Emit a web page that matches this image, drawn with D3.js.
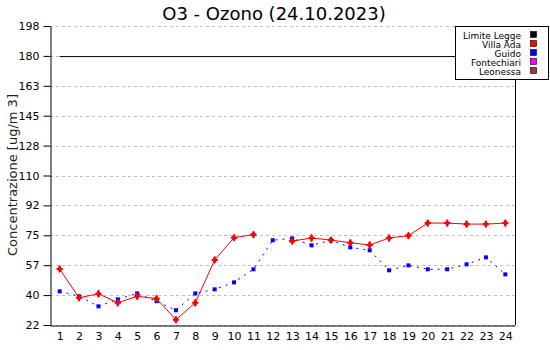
<html>
<head>
<script src="https://d3js.org/d3.v7.min.js"></script>
<style>
  body { margin: 0; background: #fff; }
  text { font-family: "DejaVu Sans", Verdana, sans-serif; }
</style>
</head>
<body>
<svg id="chart" width="550" height="350"></svg>
<script>
  // hours of the day
  var hours = d3.range(1, 25);
  var yTicks = [22, 39.6, 57.2, 74.8, 92.4, 110, 127.6, 145.2, 162.8, 180.4, 198];
  var limite = 180;
  // null = no reading
  var villaAda = [55, 38, 40.4, 35.1, 38.9, 37.5, 25.1, 35.1, 60.3, 73.4, 75.2, null,
                  71.4, 73.2, 72, 70.4, 69.1, 73.2, 74.6, 82, 82, 81.4, 81.4, 82];
  var guido = [41.8, 38.9, 33, 37.1, 40.6, 36, 30.7, 40.6, 43, 47.1, 54.8, 71.9,
               73, 68.9, 71.9, 67.7, 66, 54.2, 57.1, 54.8, 54.8, 57.7, 61.8, 51.8];
  var legendNames = ["Limite Legge", "Villa Ada", "Guido", "Fontechiari", "Leonessa"];
  var legendColors = ["#000000", "#ff0000", "#0000ff", "#ff00ff", "#a33333"];

  var margin = {top: 26, right: 35, bottom: 25, left: 50},
      width = 550 - margin.left - margin.right,
      height = 350 - margin.top - margin.bottom;

  var svg = d3.select("#chart").append("g")
    .attr("transform", "translate(" + margin.left + "," + margin.top + ")");

  var x = d3.scalePoint().domain(hours).range([0, width]).padding(0.5);
  var y = d3.scaleLinear().domain([22, 198]).range([height, 0]);

  // grid
  svg.append("g").selectAll("line")
    .data(yTicks)
    .enter().append("line")
      .attr("x1", 0).attr("x2", width)
      .attr("y1", function(d) { return Math.round(y(d)) + 0.5; })
      .attr("y2", function(d) { return Math.round(y(d)) + 0.5; })
      .attr("stroke", "#c0c0c0")
      .attr("stroke-dasharray", "3,3");

  // axes
  var yAxis = svg.append("g")
    .attr("transform", "translate(0.5,0)")
    .call(d3.axisLeft(y).tickValues(yTicks).tickSize(7).tickSizeOuter(0)
      .tickFormat(function(d) { return Math.round(d); }));
  yAxis.select(".domain").attr("stroke", "#000");
  yAxis.selectAll("text").attr("font-size", 11).attr("font-family", "DejaVu Sans, Verdana, sans-serif").attr("dx", "-1");

  var xAxis = svg.append("g")
    .attr("transform", "translate(0," + (height + 0.5) + ")")
    .call(d3.axisBottom(x).tickSize(0).tickSizeOuter(0).tickPadding(7));
  xAxis.select(".domain").attr("stroke", "#000");
  xAxis.selectAll("text").attr("font-size", 11).attr("font-family", "DejaVu Sans, Verdana, sans-serif");

  svg.append("line")
    .attr("x1", width + 0.5).attr("x2", width + 0.5)
    .attr("y1", 0).attr("y2", height)
    .attr("stroke", "#000");

  // limit line
  svg.append("line")
    .attr("x1", x(1)).attr("x2", x(24))
    .attr("y1", y(limite)).attr("y2", y(limite))
    .attr("stroke", "#000");

  var adaData = hours.map(function(h, i) { return {h: h, v: villaAda[i]}; });
  var guidoData = hours.map(function(h, i) { return {h: h, v: guido[i]}; });

  var line = d3.line()
    .defined(function(d) { return d.v !== null; })
    .x(function(d) { return x(d.h); })
    .y(function(d) { return y(d.v); });

  // Guido
  svg.append("path")
    .datum(guidoData)
    .attr("fill", "none")
    .attr("stroke", "#0000ff")
    .attr("stroke-width", 1)
    .attr("stroke-dasharray", "2,5")
    .attr("d", line);

  svg.selectAll(".gpt")
    .data(guidoData.filter(function(d) { return d.v !== null; }))
    .enter().append("rect")
      .attr("class", "gpt")
      .attr("x", function(d) { return x(d.h) - 2; })
      .attr("y", function(d) { return y(d.v) - 2; })
      .attr("width", 4).attr("height", 4)
      .attr("fill", "#0000ff");

  // Villa Ada
  svg.append("path")
    .datum(adaData)
    .attr("fill", "none")
    .attr("stroke", "#ff0000")
    .attr("stroke-width", 1)
    .attr("d", line);

  var adaPts = adaData.filter(function(d) { return d.v !== null; });
  svg.selectAll(".apt")
    .data(adaPts)
    .enter().append("path")
      .attr("class", "apt")
      .attr("transform", function(d) { return "translate(" + x(d.h) + "," + y(d.v) + ")"; })
      .attr("d", d3.symbol().type(d3.symbolDiamond).size(20))
      .attr("fill", "#ff0000");

  svg.selectAll(".apt2")
    .data(adaPts)
    .enter().append("path")
      .attr("class", "apt2")
      .attr("transform", function(d) { return "translate(" + x(d.h) + "," + y(d.v) + ")"; })
      .attr("d", d3.symbol().type(d3.symbolCross).size(22))
      .attr("fill", "#ff0000");

  // title
  d3.select("#chart").append("text")
    .attr("x", 274).attr("y", 20)
    .attr("text-anchor", "middle")
    .attr("font-size", 18)
    .text("O3 - Ozono (24.10.2023)");

  // y label
  d3.select("#chart").append("text")
    .attr("transform", "translate(17,175) rotate(-90)")
    .attr("text-anchor", "middle")
    .attr("font-size", 13)
    .attr("fill", "#222")
    .text("Concentrazione [ug/m 3]");

  // legend
  var legend = d3.select("#chart").append("g");
  legend.append("rect")
    .attr("x", 455.5).attr("y", 26.5)
    .attr("width", 93).attr("height", 53)
    .attr("fill", "#fff").attr("stroke", "#000");
  var items = legend.selectAll(".li")
    .data(legendNames)
    .enter().append("g")
      .attr("class", "li")
      .attr("transform", function(d, i) { return "translate(0," + (35 + i * 9) + ")"; });
  items.append("text")
    .attr("x", 521).attr("y", 3.5)
    .attr("text-anchor", "end")
    .attr("font-size", 9)
    .text(function(d) { return d; });
  items.append("rect")
    .attr("x", 530.5).attr("y", -3.5)
    .attr("width", 6).attr("height", 6)
    .attr("fill", function(d, i) { return legendColors[i]; })
    .attr("stroke", "#000").attr("stroke-width", 0.6);
</script>
</body>
</html>
